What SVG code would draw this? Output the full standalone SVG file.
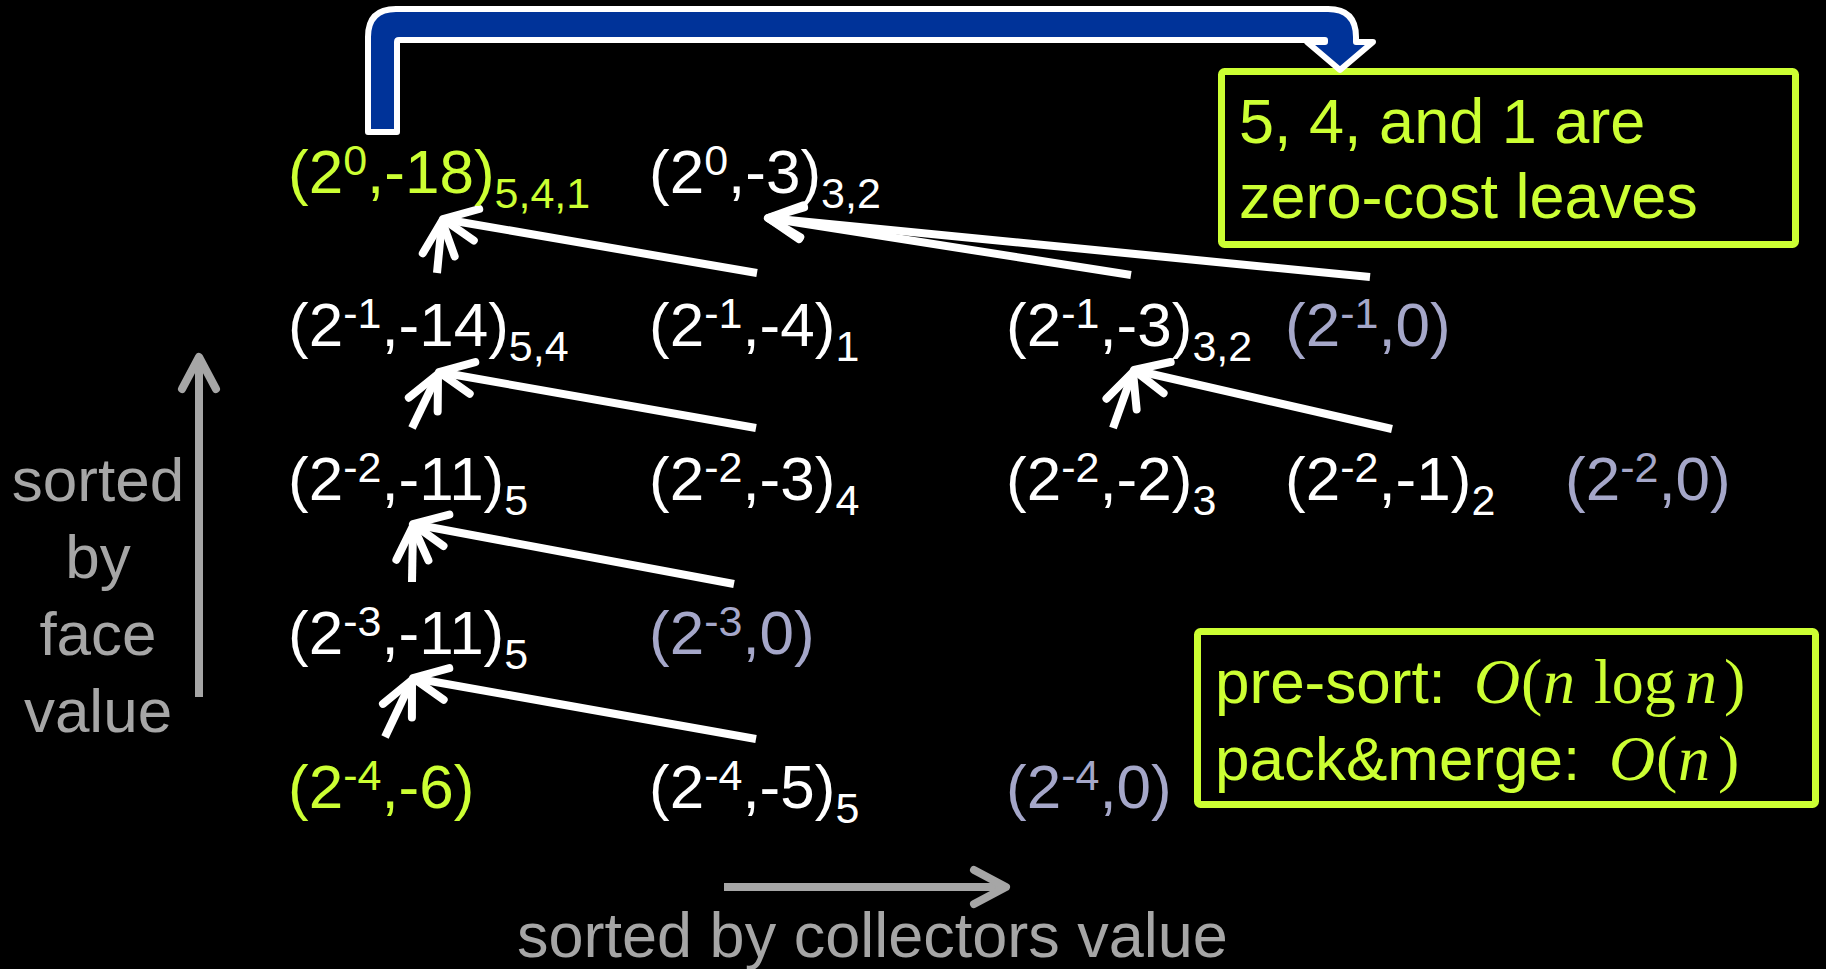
<svg xmlns="http://www.w3.org/2000/svg" width="1826" height="969" viewBox="0 0 1826 969">
<defs>
<style>
.t{font-family:"Liberation Sans",Arial,sans-serif;font-size:62px}
.s{font-size:43px}
.w{fill:#ffffff}.lime{fill:#CCFF33}.gb{fill:#A5A7C9}.gray{fill:#A6A6A6}
.m{font-family:"Liberation Serif","Times New Roman",serif;font-size:64px;fill:#CCFF33}
.i{font-style:italic}
.wl{fill:none;stroke:#ffffff;stroke-width:8;marker-end:url(#ah)}
.gl{fill:none;stroke:#A6A6A6;stroke-width:8;marker-end:url(#ahg)}
.box{fill:none;stroke:#CCFF33;stroke-width:7}
</style>
<marker id="ah" markerUnits="userSpaceOnUse" markerWidth="80" markerHeight="80" viewBox="-40 -40 80 80" refX="0" refY="0" orient="auto" overflow="visible">
<path d="M-34 -16 L0 0 L-34 16" fill="none" stroke="#ffffff" stroke-width="8" stroke-linecap="round" stroke-linejoin="round"/>
</marker>
<marker id="ahg" markerUnits="userSpaceOnUse" markerWidth="80" markerHeight="80" viewBox="-40 -40 80 80" refX="0" refY="0" orient="auto" overflow="visible">
<path d="M-32 -17 L0 0 L-32 17" fill="none" stroke="#A6A6A6" stroke-width="8" stroke-linecap="round" stroke-linejoin="round"/>
</marker>
</defs>
<rect x="0" y="0" width="1826" height="969" fill="#000000"/>

<g id="connectors">
<line class="wl" x1="757" y1="273" x2="443" y2="219"/>
<line class="wl" x1="437" y1="273" x2="442" y2="221"/>
<line class="wl" x1="1131" y1="275" x2="768" y2="218"/>
<line class="wl" x1="1370" y1="277" x2="768" y2="218"/>
<line class="wl" x1="756" y1="428" x2="439" y2="372"/>
<line class="wl" x1="412" y1="428" x2="438" y2="374"/>
<line class="wl" x1="1392" y1="429" x2="1134" y2="370"/>
<line class="wl" x1="1113" y1="428" x2="1133" y2="372"/>
<line class="wl" x1="734" y1="584" x2="413" y2="524"/>
<line class="wl" x1="412" y1="582" x2="413" y2="526"/>
<line class="wl" x1="756" y1="739" x2="413" y2="678"/>
<line class="wl" x1="385" y1="737" x2="412" y2="680"/>
<line class="gl" x1="199" y1="697" x2="199" y2="357"/>
<line class="gl" x1="724" y1="887" x2="1006" y2="887"/>
</g>

<g id="n-r1c1"><text class="t lime" x="288" y="193">(2<tspan class="s" dy="-18">0</tspan><tspan dy="18">,-18)</tspan><tspan class="s" dy="15">5,4,1</tspan></text></g>
<g id="n-r1c2"><text class="t w" x="649" y="193">(2<tspan class="s" dy="-18">0</tspan><tspan dy="18">,-3)</tspan><tspan class="s" dy="15">3,2</tspan></text></g>

<g id="n-r2c1"><text class="t w" x="288" y="346">(2<tspan class="s" dy="-18">-1</tspan><tspan dy="18">,-14)</tspan><tspan class="s" dy="15">5,4</tspan></text></g>
<g id="n-r2c2"><text class="t w" x="649" y="346">(2<tspan class="s" dy="-18">-1</tspan><tspan dy="18">,-4)</tspan><tspan class="s" dy="15">1</tspan></text></g>
<g id="n-r2c3"><text class="t w" x="1006" y="346">(2<tspan class="s" dy="-18">-1</tspan><tspan dy="18">,-3)</tspan><tspan class="s" dy="15">3,2</tspan></text></g>
<g id="n-r2c4"><text class="t gb" x="1285" y="346">(2<tspan class="s" dy="-18">-1</tspan><tspan dy="18">,0)</tspan></text></g>

<g id="n-r3c1"><text class="t w" x="288" y="500">(2<tspan class="s" dy="-18">-2</tspan><tspan dy="18">,-11)</tspan><tspan class="s" dy="15">5</tspan></text></g>
<g id="n-r3c2"><text class="t w" x="649" y="500">(2<tspan class="s" dy="-18">-2</tspan><tspan dy="18">,-3)</tspan><tspan class="s" dy="15">4</tspan></text></g>
<g id="n-r3c3"><text class="t w" x="1006" y="500">(2<tspan class="s" dy="-18">-2</tspan><tspan dy="18">,-2)</tspan><tspan class="s" dy="15">3</tspan></text></g>
<g id="n-r3c4"><text class="t w" x="1285" y="500">(2<tspan class="s" dy="-18">-2</tspan><tspan dy="18">,-1)</tspan><tspan class="s" dy="15">2</tspan></text></g>
<g id="n-r3c5"><text class="t gb" x="1565" y="500">(2<tspan class="s" dy="-18">-2</tspan><tspan dy="18">,0)</tspan></text></g>

<g id="n-r4c1"><text class="t w" x="288" y="654">(2<tspan class="s" dy="-18">-3</tspan><tspan dy="18">,-11)</tspan><tspan class="s" dy="15">5</tspan></text></g>
<g id="n-r4c2"><text class="t gb" x="649" y="654">(2<tspan class="s" dy="-18">-3</tspan><tspan dy="18">,0)</tspan></text></g>

<g id="n-r5c1"><text class="t lime" x="288" y="808">(2<tspan class="s" dy="-18">-4</tspan><tspan dy="18">,-6)</tspan></text></g>
<g id="n-r5c2"><text class="t w" x="649" y="808">(2<tspan class="s" dy="-18">-4</tspan><tspan dy="18">,-5)</tspan><tspan class="s" dy="15">5</tspan></text></g>
<g id="n-r5c3"><text class="t gb" x="1006" y="808">(2<tspan class="s" dy="-18">-4</tspan><tspan dy="18">,0)</tspan></text></g>

<g id="label-face">
<text class="t gray" text-anchor="middle" x="98" y="501">sorted</text>
<text class="t gray" text-anchor="middle" x="98" y="578">by</text>
<text class="t gray" text-anchor="middle" x="98" y="655">face</text>
<text class="t gray" text-anchor="middle" x="98" y="732">value</text>
</g>
<g id="label-collectors">
<text class="t gray" x="517" y="957" style="font-size:63px">sorted by collectors value</text>
</g>

<g id="box-leaves">
<rect class="box" x="1221.5" y="71.5" width="574" height="173" rx="3"/>
<text class="t lime" x="1239" y="143" style="font-size:63px">5, 4, and 1 are</text>
<text class="t lime" x="1239" y="218" style="font-size:63px">zero-cost leaves</text>
</g>

<g id="box-complexity">
<rect class="box" x="1197.5" y="631.5" width="618" height="173" rx="3"/>
<text class="t lime" x="1215" y="703">pre-sort:</text>
<text class="m" y="703"><tspan class="i" x="1474">O</tspan><tspan x="1521">(</tspan><tspan class="i" x="1543">n</tspan><tspan x="1594">log</tspan><tspan class="i" x="1685">n</tspan><tspan x="1724">)</tspan></text>
<text class="t lime" x="1215" y="780">pack&amp;merge:</text>
<text class="m" y="780"><tspan class="i" x="1609">O</tspan><tspan x="1656">(</tspan><tspan class="i" x="1678">n</tspan><tspan x="1718">)</tspan></text>
</g>

<g id="bent-arrow">
<path d="M368 132 L368 37 Q368 9 396 9 L1328 9 Q1356 9 1356 37 L1356 42 L1373 42 L1340 70 L1307 42 L1325 42 L1325 40 L399 40 Q397 40 397 42 L397 132 Z" fill="#003399" stroke="#ffffff" stroke-width="6" stroke-linejoin="round"/>
</g>
</svg>
